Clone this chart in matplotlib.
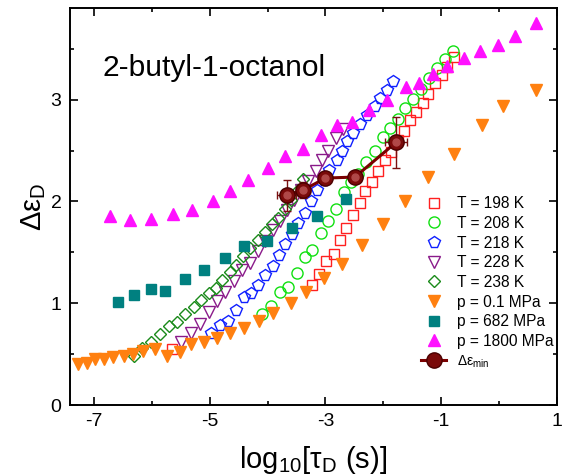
import matplotlib.pyplot as plt
from matplotlib.ticker import MultipleLocator

plt.rcParams['font.family'] = ['Liberation Sans', 'DejaVu Sans']
plt.rcParams['mathtext.default'] = 'regular'
plt.rcParams['axes.unicode_minus'] = False

# T = 198 K
t198_x = [-5.65, -3.23, -3.11, -2.99, -2.86, -2.75, -2.64, -2.52, -2.41, -2.31, -2.19, -2.09,
          -1.97, -1.86, -1.75, -1.64, -1.54, -1.43, -1.32, -1.22, -1.10, -0.99, -0.89, -0.77]
t198_y = [0.55, 1.18, 1.29, 1.42, 1.48, 1.62, 1.74, 1.87, 1.99, 2.10, 2.19, 2.30,
          2.41, 2.49, 2.60, 2.69, 2.80, 2.88, 2.97, 3.06, 3.16, 3.24, 3.32, 3.42]
# T = 208 K
t208_x = [-4.10, -3.94, -3.79, -3.65, -3.49, -3.35, -3.23, -3.08, -2.96, -2.82, -2.68, -2.56, -2.43,
          -2.30, -2.15, -2.01, -1.88, -1.75, -1.63, -1.49, -1.35, -1.21, -1.07, -0.94, -0.80]
t208_y = [0.89, 0.97, 1.11, 1.16, 1.30, 1.45, 1.52, 1.69, 1.81, 1.93, 2.09, 2.19, 2.27,
          2.39, 2.50, 2.63, 2.72, 2.81, 2.92, 3.01, 3.11, 3.21, 3.31, 3.40, 3.48]
# T = 218 K
t218_x = [-4.98, -4.83, -4.69, -4.55, -4.41, -4.28, -4.16, -4.05, -3.91, -3.80, -3.70, -3.57, -3.48, -3.36,
          -3.25, -3.14, -3.02, -2.93, -2.80, -2.71, -2.62, -2.52, -2.40, -2.28, -2.15, -2.05, -1.94, -1.83]
t218_y = [0.71, 0.79, 0.83, 0.93, 1.06, 1.10, 1.18, 1.28, 1.37, 1.47, 1.58, 1.68, 1.79, 1.89,
          2.00, 2.11, 2.21, 2.31, 2.41, 2.50, 2.59, 2.67, 2.76, 2.85, 2.94, 3.02, 3.10, 3.18]
# T = 228 K
t228_x = [-5.49, -5.32, -5.17, -5.02, -4.87, -4.73, -4.58, -4.44, -4.30, -4.17, -4.04,
          -3.91, -3.79, -3.67, -3.54, -3.42, -3.30, -3.17, -3.06, -2.96, -2.81, -2.69]
t228_y = [0.62, 0.71, 0.80, 0.91, 1.02, 1.11, 1.22, 1.33, 1.40, 1.51, 1.61,
          1.72, 1.81, 1.92, 2.01, 2.11, 2.20, 2.30, 2.41, 2.50, 2.62, 2.71]
# T = 238 K
t238_x = [-6.31, -6.17, -6.01, -5.86, -5.70, -5.56, -5.43, -5.27, -5.15, -5.02, -4.90, -4.78, -4.65,
          -4.54, -4.42, -4.30, -4.17, -4.04, -3.93, -3.82, -3.70, -3.59, -3.48, -3.39]
t238_y = [0.48, 0.56, 0.62, 0.70, 0.78, 0.82, 0.89, 0.96, 1.03, 1.10, 1.15, 1.23, 1.31,
          1.38, 1.46, 1.54, 1.62, 1.70, 1.78, 1.84, 1.93, 2.01, 2.11, 2.22]
# p = 0.1 MPa
p01_x = [-7.28, -7.12, -6.99, -6.83, -6.67, -6.49, -6.32, -6.15, -5.95, -5.73, -5.52, -5.32, -5.10, -4.88, -4.65,
         -4.41, -4.15, -3.90, -3.60, -3.33, -3.03, -2.71, -2.37, -2.01, -1.63, -1.22, -0.78, -0.29, 0.07, 0.64]
p01_y = [0.40, 0.41, 0.45, 0.45, 0.47, 0.48, 0.50, 0.53, 0.55, 0.48, 0.52, 0.60, 0.62, 0.66, 0.71,
         0.76, 0.83, 0.90, 1.00, 1.11, 1.25, 1.39, 1.57, 1.78, 2.00, 2.24, 2.47, 2.75, 2.94, 3.10]
# p = 682 MPa
p682_x = [-6.59, -6.31, -6.01, -5.77, -5.43, -5.10, -4.74, -4.41, -4.01, -3.57, -3.14, -2.64]
p682_y = [1.01, 1.08, 1.14, 1.12, 1.24, 1.33, 1.44, 1.56, 1.61, 1.74, 1.86, 2.02]
# p = 1800 MPa
p1800_x = [-6.72, -6.37, -6.01, -5.64, -5.30, -4.95, -4.65, -4.33, -3.99, -3.70, -3.39, -3.07, -2.80,
           -2.54, -2.25, -1.94, -1.61, -1.38, -1.14, -0.89, -0.61, -0.32, -0.02, 0.27, 0.64]
p1800_y = [1.86, 1.82, 1.83, 1.88, 1.92, 2.00, 2.10, 2.21, 2.33, 2.45, 2.52, 2.65, 2.75,
           2.78, 2.90, 3.00, 3.12, 3.16, 3.25, 3.33, 3.41, 3.48, 3.54, 3.63, 3.75]
# delta eps min
dmin_x = [-3.67, -3.39, -3.00, -2.49, -1.78]
dmin_y = [2.06, 2.11, 2.23, 2.24, 2.58]
dmin_xerr = [0.16, 0.12, 0.0, 0.0, 0.19]
dmin_yerr = [0.15, 0.08, 0.0, 0.0, 0.25]

fig = plt.figure(figsize=(5.67, 4.76), dpi=100)
ax = fig.add_axes([0.123, 0.149, 0.859, 0.834])

open_kw = dict(linestyle='none', markerfacecolor='none', markeredgewidth=1.0)
ax.plot(t198_x, t198_y, marker='s', markersize=7, markeredgecolor='#ff2020', label='T = 198 K', **open_kw)
ax.plot(t208_x, t208_y, marker='o', markersize=8, markeredgecolor='#10e010', label='T = 208 K', **open_kw)
ax.plot(t218_x, t218_y, marker='p', markersize=8.5, markeredgecolor='#1020ff', label='T = 218 K', **open_kw)
ax.plot(t228_x, t228_y, marker='v', markersize=8.5, markeredgecolor='#8a1a8a', label='T = 228 K', **open_kw)
ax.plot(t238_x, t238_y, marker='D', markersize=6.5, markeredgecolor='#1a8a1a', label='T = 238 K', **open_kw)
ax.plot(p01_x, p01_y, linestyle='none', marker='v', markersize=9, color='#ff8010', label='p = 0.1 MPa')
ax.plot(p682_x, p682_y, linestyle='none', marker='s', markersize=7, color='#008080', label='p = 682 MPa')
ax.plot(p1800_x, p1800_y, linestyle='none', marker='^', markersize=9, color='#ff10ff', label='p = 1800 MPa')

ax.errorbar(dmin_x, dmin_y, xerr=dmin_xerr, yerr=dmin_yerr, fmt='none', ecolor='#7a1010',
            elinewidth=1.0, capsize=3, capthick=1.0, zorder=5)
dmin_line, = ax.plot(dmin_x, dmin_y, '-o', color='#7a0000', linewidth=2.2, markersize=11,
                     markerfacecolor='#7a0a0a', markeredgecolor='#4a0000', zorder=6, label='Δε$_{min}$')
ax.plot(dmin_x, dmin_y, linestyle='none', marker='o', markersize=5, color='#b04848', zorder=7)

ax.set_xlim(-7.42, 1.0)
ax.set_ylim(0, 3.9)
ax.xaxis.set_major_locator(MultipleLocator(2))
ax.xaxis.set_minor_locator(MultipleLocator(1))
ax.yaxis.set_major_locator(MultipleLocator(1))
ax.yaxis.set_minor_locator(MultipleLocator(0.5))
ax.set_xticks([-7, -5, -3, -1, 1])
ax.tick_params(which='both', direction='in', top=True, right=True, width=1.2, labelsize=14)
ax.tick_params(which='major', length=6, pad=6)
ax.tick_params(which='minor', length=3)
for s in ax.spines.values():
    s.set_linewidth(1.4)

ax.set_xlabel('log$_{10}$[τ$_D$ (s)]', fontsize=21, labelpad=10)
ax.set_ylabel('Δε$_D$', fontsize=21, labelpad=2)

ax.text(0.068, 0.85, '2-butyl-1-octanol', transform=ax.transAxes, fontsize=21.5, va='center', ha='left')

leg = ax.legend(loc='lower right', bbox_to_anchor=(1.013, 0.065), frameon=False, fontsize=11.2,
                handlelength=1.6, handletextpad=0.7, labelspacing=0.3, borderaxespad=0.2)
leg.get_texts()[-1].set_fontsize(10)

fig.savefig('out.png', dpi=100)
